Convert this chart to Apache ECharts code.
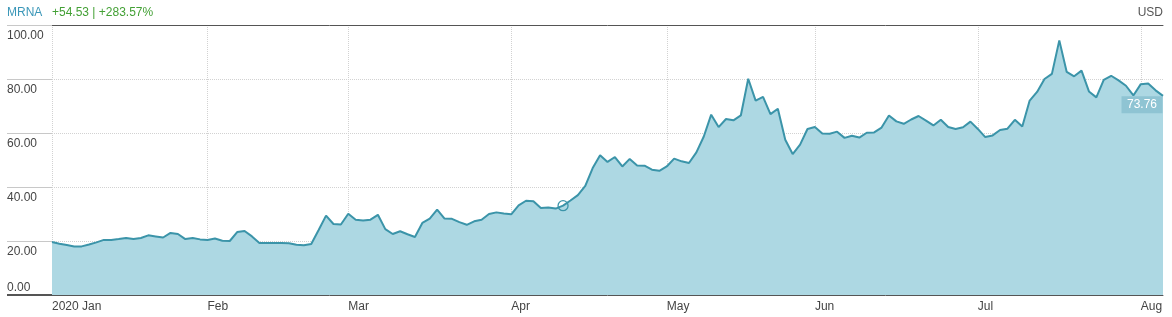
<!DOCTYPE html>
<html><head><meta charset="utf-8">
<script src="https://cdn.jsdelivr.net/npm/echarts@6/dist/echarts.min.js"></script>
<style>html,body{margin:0;padding:0;background:#fff}#c{width:1172px;height:317px}</style>
</head><body><div id="c"></div>
<script>
const dates = [
'2020-01-02','2020-01-03','2020-01-06','2020-01-07','2020-01-08','2020-01-09','2020-01-10','2020-01-13','2020-01-14','2020-01-15','2020-01-16','2020-01-17','2020-01-21','2020-01-22','2020-01-23','2020-01-24','2020-01-27','2020-01-28','2020-01-29','2020-01-30','2020-01-31',
'2020-02-03','2020-02-04','2020-02-05','2020-02-06','2020-02-07','2020-02-10','2020-02-11','2020-02-12','2020-02-13','2020-02-14','2020-02-18','2020-02-19','2020-02-20','2020-02-21','2020-02-24','2020-02-25','2020-02-26','2020-02-27','2020-02-28',
'2020-03-02','2020-03-03','2020-03-04','2020-03-05','2020-03-06','2020-03-09','2020-03-10','2020-03-11','2020-03-12','2020-03-13','2020-03-16','2020-03-17','2020-03-18','2020-03-19','2020-03-20','2020-03-23','2020-03-24','2020-03-25','2020-03-26','2020-03-27','2020-03-30','2020-03-31',
'2020-04-01','2020-04-02','2020-04-03','2020-04-06','2020-04-07','2020-04-08','2020-04-09','2020-04-13','2020-04-14','2020-04-15','2020-04-16','2020-04-17','2020-04-20','2020-04-21','2020-04-22','2020-04-23','2020-04-24','2020-04-27','2020-04-28','2020-04-29','2020-04-30',
'2020-05-01','2020-05-04','2020-05-05','2020-05-06','2020-05-07','2020-05-08','2020-05-11','2020-05-12','2020-05-13','2020-05-14','2020-05-15','2020-05-18','2020-05-19','2020-05-20','2020-05-21','2020-05-22','2020-05-26','2020-05-27','2020-05-28','2020-05-29',
'2020-06-01','2020-06-02','2020-06-03','2020-06-04','2020-06-05','2020-06-08','2020-06-09','2020-06-10','2020-06-11','2020-06-12','2020-06-15','2020-06-16','2020-06-17','2020-06-18','2020-06-19','2020-06-22','2020-06-23','2020-06-24','2020-06-25','2020-06-26','2020-06-29','2020-06-30',
'2020-07-01','2020-07-02','2020-07-06','2020-07-07','2020-07-08','2020-07-09','2020-07-10','2020-07-13','2020-07-14','2020-07-15','2020-07-16','2020-07-17','2020-07-20','2020-07-21','2020-07-22','2020-07-23','2020-07-24','2020-07-27','2020-07-28','2020-07-29','2020-07-30','2020-07-31',
'2020-08-03','2020-08-04','2020-08-05','2020-08-06'
];
const prices = [
19.6,19.0,18.5,18.0,18.0,18.7,19.5,20.4,20.4,20.7,
21.1,20.7,21.1,22.1,21.7,21.3,23.0,22.6,20.7,21.1,
20.6,20.4,20.9,20.1,20.0,23.3,23.7,21.7,19.3,19.3,
19.3,19.3,19.2,18.6,18.4,18.9,24.1,29.4,26.3,26.1,
30.1,27.9,27.6,27.9,29.7,24.4,22.6,23.6,22.5,21.5,
26.7,28.3,31.6,28.3,28.2,27.0,26.0,27.3,27.9,30.0,
30.6,30.2,29.9,33.2,34.9,34.7,32.2,32.4,32.0,33.1,
35.0,37.0,40.4,47.0,51.8,49.3,51.1,47.6,50.4,48.0,
47.9,46.4,46.0,47.6,50.5,49.5,48.9,52.8,58.7,66.8,
62.2,65.2,64.7,66.5,80.1,72.0,73.4,67.0,69.0,57.5,
52.2,55.7,61.5,62.2,59.8,59.7,60.5,58.2,59.0,58.3,
60.1,60.2,62.0,66.5,64.3,63.4,65.0,66.3,64.6,62.8,
64.9,62.2,61.5,62.1,64.2,61.5,58.5,59.1,61.1,61.6,
64.9,62.4,72.0,75.2,80.0,81.9,94.3,82.6,81.0,83.1,
75.4,73.2,79.7,81.2,79.5,77.5,73.9,78.1,78.3,75.8,73.76
];
const monthStarts = ['2020-01-02','2020-02-03','2020-03-02','2020-04-01','2020-05-01','2020-06-01','2020-07-01','2020-08-03'];
const monthLabels = ['2020 Jan','Feb','Mar','Apr','May','Jun','Jul','Aug'];
const yTickValues = [0,20,40,60,80,100];
const ticker = 'MRNA';
const changeText = '+54.53 | +283.57%';
const currency = 'USD';
const lastLabel = '73.76';
const eventDate = '2020-04-13';

function hasFont(name) {
  const c = document.createElement('canvas').getContext('2d');
  const s = 'abcdefghijklmnop0123456789.';
  c.font = '20px monospace'; const w1 = c.measureText(s).width;
  c.font = "20px '" + name + "', monospace"; const w2 = c.measureText(s).width;
  return Math.abs(w1 - w2) > 0.5;
}
let FONT, FS;
if (hasFont('Liberation Sans Narrow')) { FONT = "'Liberation Sans Narrow', sans-serif"; FS = 13; }
else if (hasFont('Arial Narrow')) { FONT = "'Arial Narrow', sans-serif"; FS = 13; }
else { FONT = "'Liberation Sans', Arial, sans-serif"; FS = 12; }

const TEAL = '#3b94a9';
const FILL = '#add8e3';
const GRIDC = '#d2d2d2';

const chart = echarts.init(document.getElementById('c'), null, {renderer: 'canvas'});
const monthIdx = monthStarts.map(d => dates.indexOf(d));
const isMonth = (i) => monthIdx.indexOf(i) >= 0;
const lastIdx = dates.length - 1;
const eventIdx = dates.indexOf(eventDate);

chart.setOption({
  animation: false,
  title: [
    {text: ticker, left: 7, top: 7, padding: 0, textStyle: {color: '#3b97b8', fontSize: FS, fontWeight: 'normal', fontFamily: FONT}},
    {text: changeText, left: 52, top: 7, padding: 0, textStyle: {color: '#43a035', fontSize: FS, fontWeight: 'normal', fontFamily: FONT}},
    {text: currency, right: 9, top: 7, padding: 0, textStyle: {color: '#555', fontSize: FS, fontWeight: 'normal', fontFamily: FONT}}
  ],
  grid: [
    {left: 52, right: 9, top: 25, bottom: 22, containLabel: false},
    {left: 52, right: 9, top: 294, bottom: 22, containLabel: false}
  ],
  xAxis: [
    {
      type: 'category', gridIndex: 0, data: dates, boundaryGap: false,
      axisLine: {show: true, lineStyle: {color: '#555', width: 1}},
      axisTick: {show: false},
      axisLabel: {
        interval: (i) => isMonth(i),
        formatter: (v, i) => { const k = monthStarts.indexOf(v); return k >= 0 ? monthLabels[k] : ''; },
        align: 'left', margin: 6, color: '#444', fontSize: FS, fontFamily: FONT
      },
      splitLine: {show: true, interval: (i) => isMonth(i), lineStyle: {color: GRIDC, type: 'dotted', width: 1}}
    },
    {
      type: 'category', gridIndex: 0, data: dates, boundaryGap: false, position: 'top',
      axisLine: {show: true, lineStyle: {color: '#555', width: 1}},
      axisTick: {show: false}, axisLabel: {show: false}, splitLine: {show: false}
    },
    {type: 'category', gridIndex: 1, data: dates, show: false}
  ],
  yAxis: [
    {
      type: 'value', gridIndex: 0, min: yTickValues[0], max: yTickValues[yTickValues.length - 1], interval: 20,
      axisLine: {show: false},
      axisTick: {show: true, length: 45, lineStyle: {color: '#c8c8c8'}},
      axisLabel: {
        showMinLabel: false,
        formatter: (v) => v.toFixed(2),
        align: 'left', verticalAlign: 'top', margin: 45, padding: [5, 0, 0, 0],
        color: '#444', fontSize: FS, fontFamily: FONT
      },
      splitLine: {show: true, lineStyle: {color: GRIDC, type: 'dotted', width: 1}}
    },
    {
      type: 'value', gridIndex: 1, min: 0, max: 1, interval: 1, z: 3,
      axisLine: {show: false},
      axisTick: {show: true, length: 45, lineStyle: {color: '#555'}},
      axisLabel: {
        formatter: (v) => v === 0 ? yTickValues[0].toFixed(2) : '',
        align: 'left', verticalAlign: 'bottom', margin: 45, padding: [0, 0, 1, 0],
        color: '#444', fontSize: FS, fontFamily: FONT
      },
      splitLine: {show: false}
    }
  ],
  series: [{
    type: 'line', xAxisIndex: 0, yAxisIndex: 0,
    data: prices, showSymbol: false, symbol: 'none',
    lineStyle: {color: TEAL, width: 2},
    areaStyle: {color: FILL, opacity: 1},
    z: 2,
    markPoint: {
      silent: true,
      data: [
        {
          coord: [dates[lastIdx], prices[lastIdx]],
          symbol: 'rect', symbolSize: [41, 17], symbolOffset: [-21, 9],
          itemStyle: {color: '#8fc4d3'},
          label: {show: true, position: 'inside', formatter: lastLabel, color: '#fff', fontSize: FS, fontFamily: FONT}
        },
        {
          coord: [dates[eventIdx], prices[eventIdx]],
          symbol: 'circle', symbolSize: 10,
          itemStyle: {color: 'rgba(0,0,0,0)', borderColor: TEAL, borderWidth: 1.3},
          label: {show: false}
        }
      ]
    }
  }]
});
</script>
</body></html>
